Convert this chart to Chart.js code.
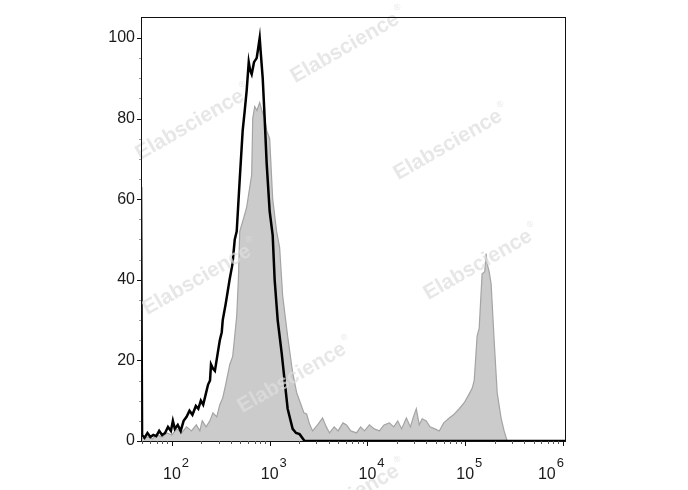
<!DOCTYPE html>
<html>
<head>
<meta charset="utf-8">
<script src="https://cdn.jsdelivr.net/npm/chart.js@4/dist/chart.umd.min.js"></script>
<style>
  html, body { margin: 0; padding: 0; background: #ffffff; }
  #wrap { width: 688px; height: 490px; }
</style>
</head>
<body>
<div id="wrap"><canvas id="c" width="688" height="490"></canvas></div>
<script>
// ---- Data (x given as log10 of fluorescence intensity) ----
const blackLogX = [1.684, 1.695, 1.72, 1.75, 1.78, 1.81, 1.84, 1.87, 1.90, 1.93, 1.96, 1.99, 2.01, 2.03, 2.06, 2.09, 2.12, 2.15, 2.18, 2.21, 2.245, 2.27, 2.296, 2.32, 2.347, 2.37, 2.39, 2.40, 2.42, 2.44, 2.47, 2.49, 2.51, 2.52, 2.55, 2.59, 2.62, 2.643, 2.663, 2.694, 2.724, 2.745, 2.765, 2.786, 2.80, 2.816, 2.84, 2.867, 2.88, 2.898, 2.91, 2.929, 2.949, 2.969, 3.0, 3.031, 3.051, 3.082, 3.122, 3.153, 3.184, 3.235, 3.27, 3.306, 3.357, 6.031];
const blackY    = [63, 1.5, 0.8, 2, 1, 1.5, 1.2, 2.5, 1.5, 2, 3.5, 2.5, 5, 3, 4, 2.5, 5, 6, 7.5, 6.5, 8.7, 8, 10, 9, 11.7, 14, 15, 19, 18, 17.4, 22, 25, 27, 30, 34, 40, 44, 50, 52, 65, 77, 82, 87, 94, 92, 91, 94, 95, 97, 100, 96, 90, 80, 69, 57, 51, 40, 30, 22, 15, 8, 3, 2, 1.7, 0, 0];

const grayLogX = [1.684, 1.75, 1.80, 1.85, 1.90, 1.95, 2.0, 2.05, 2.1, 2.15, 2.2, 2.25, 2.286, 2.31, 2.35, 2.388, 2.42, 2.459, 2.49, 2.52, 2.55, 2.592, 2.622, 2.663, 2.68, 2.694, 2.73, 2.765, 2.79, 2.816, 2.827, 2.847, 2.87, 2.898, 2.92, 2.949, 2.97, 3.0, 3.031, 3.071, 3.102, 3.133, 3.184, 3.235, 3.276, 3.306, 3.35, 3.378, 3.408, 3.439, 3.49, 3.541, 3.58, 3.612, 3.66, 3.70, 3.75, 3.786, 3.83, 3.888, 3.93, 3.97, 4.02, 4.07, 4.122, 4.17, 4.224, 4.27, 4.31, 4.35, 4.398, 4.44, 4.47, 4.5, 4.53, 4.56, 4.602, 4.64, 4.69, 4.735, 4.78, 4.837, 4.88, 4.939, 4.99, 5.041, 5.07, 5.092, 5.122, 5.143, 5.173, 5.20, 5.214, 5.224, 5.245, 5.265, 5.296, 5.327, 5.367, 5.398, 5.429, 6.031];
const grayY    = [0.5, 1, 0.5, 1.5, 1, 2, 1.5, 3, 2, 3.5, 2.5, 4, 2.5, 5, 3.5, 5, 7, 6, 9, 10.7, 14, 19, 21, 31, 40, 52, 55, 58, 62, 66, 80, 83, 82, 84, 82, 80, 77, 75, 60, 52, 48, 36, 26, 17, 12, 10, 7, 6.7, 4.2, 2.5, 4, 5.7, 3.5, 2, 3.5, 2.5, 4.5, 4, 2.5, 2, 3.5, 2.5, 4, 3, 2.5, 4, 4.5, 3.5, 5, 3, 5.7, 3.5, 6, 8, 4, 5.5, 5, 3.5, 3, 2.5, 4.5, 5.7, 6.5, 8, 9.5, 11.7, 13, 15, 26, 28, 41.5, 42, 46.5, 44, 42, 39, 25, 12, 5.7, 2.5, 0, 0];

const xTickExponents = [2, 3, 4, 5, 6];
const yTickLabels = [0, 20, 40, 60, 80, 100];
const yMinorStep = 5;
const watermarkText = 'Elabscience';

// ---- Chart ----
const toPoints = (lx, ys) => lx.map((v, i) => ({ x: Math.pow(10, v), y: ys[i] }));

const FONT = '"Liberation Sans", Arial, Helvetica, sans-serif';

const decorPlugin = {
  id: 'decor',
  afterDatasetsDraw(chart) {
    const { ctx } = chart;
    const spots = [[345, 48], [190, 125], [448, 145], [197, 280], [478, 265], [292, 378], [345, 500]];
    ctx.save();
    ctx.font = 'bold 21px ' + FONT;
    ctx.fillStyle = 'rgba(222,222,222,0.72)';
    ctx.textAlign = 'center';
    ctx.textBaseline = 'middle';
    spots.forEach(([cx, cy]) => {
      ctx.save();
      ctx.translate(cx, cy);
      ctx.rotate(-30 * Math.PI / 180);
      ctx.font = 'bold 21px ' + FONT;
      ctx.fillText(watermarkText, 0, 0);
      const w = ctx.measureText(watermarkText).width;
      ctx.font = '9px ' + FONT;
      ctx.fillText('\u00AE', w / 2 + 5, -9);
      ctx.restore();
    });
    ctx.restore();
  },
  afterDraw(chart) {
    const { ctx, chartArea } = chart;
    const xs = chart.scales.x, ys = chart.scales.y;
    ctx.save();
    // frame
    ctx.strokeStyle = '#111';
    ctx.lineWidth = 1;
    ctx.strokeRect(chartArea.left + 0.5, chartArea.top + 0.5, chartArea.right - chartArea.left - 1, chartArea.bottom - chartArea.top);
    // x ticks (major + minor)
    const bottom = chartArea.bottom;
    for (let e = 1; e <= 6; e++) {
      for (let k = 1; k <= 9; k++) {
        const v = k * Math.pow(10, e);
        if (v < xs.min || v > xs.max) continue;
        const px = Math.round(xs.getPixelForValue(v)) + 0.5;
        ctx.beginPath();
        ctx.strokeStyle = k === 1 ? '#111' : '#555';
        ctx.moveTo(px, bottom);
        ctx.lineTo(px, bottom + (k === 1 ? 5 : 3));
        ctx.stroke();
      }
    }
    // y ticks
    for (let v = 0; v <= 100; v += yMinorStep) {
      const py = Math.round(ys.getPixelForValue(v)) + 0.5;
      const major = yTickLabels.includes(v);
      ctx.beginPath();
      ctx.strokeStyle = major ? '#111' : '#999';
      ctx.moveTo(chartArea.left, py);
      ctx.lineTo(chartArea.left - (major ? 4 : 2), py);
      ctx.stroke();
    }
    // x tick labels 10^n
    ctx.fillStyle = '#1a1a1a';
    ctx.textBaseline = 'alphabetic';
    xTickExponents.forEach(e => {
      const px = xs.getPixelForValue(Math.pow(10, e));
      ctx.font = '16px ' + FONT;
      const wb = ctx.measureText('10').width;
      ctx.font = '13px ' + FONT;
      const we = ctx.measureText(String(e)).width;
      let left = px - wb / 2;
      if (left + wb + 1 + we > chartArea.right) left = chartArea.right - 2 - wb - 1 - we;
      ctx.textAlign = 'left';
      ctx.font = '16px ' + FONT;
      ctx.fillText('10', left, 479);
      ctx.font = '13px ' + FONT;
      ctx.fillText(String(e), left + wb + 1, 467);
    });
    ctx.restore();
  }
};

new Chart(document.getElementById('c'), {
  type: 'line',
  data: {
    datasets: [
      {
        label: 'Stained',
        data: toPoints(blackLogX, blackY),
        borderColor: '#000000',
        borderWidth: 2.5,
        pointRadius: 0,
        fill: false,
        tension: 0,
        order: 0
      },
      {
        label: 'Control',
        data: toPoints(grayLogX, grayY),
        borderColor: '#a4a4a4',
        backgroundColor: '#cbcbcb',
        borderWidth: 1.2,
        pointRadius: 0,
        fill: 'origin',
        tension: 0,
        order: 1
      }
    ]
  },
  options: {
    responsive: false,
    animation: false,
    devicePixelRatio: 1,
    layout: { padding: { top: 17, right: 122, left: 0, bottom: 0 } },
    plugins: { legend: { display: false }, tooltip: { enabled: false } },
    scales: {
      x: {
        type: 'logarithmic',
        min: Math.pow(10, 1.684),
        max: Math.pow(10, 6.031),
        grid: { display: false, drawTicks: false },
        border: { display: false },
        ticks: { display: false },
        afterFit(s) { s.height = 49; }
      },
      y: {
        type: 'linear',
        min: 0,
        max: 105.2,
        grid: { display: false, drawTicks: false },
        border: { display: false },
        afterBuildTicks(s) { s.ticks = yTickLabels.map(v => ({ value: v })); },
        ticks: {
          color: '#1a1a1a',
          padding: 6,
          font: { size: 16, family: FONT },
          callback: v => String(v)
        },
        afterFit(s) { s.width = 141; }
      }
    }
  },
  plugins: [decorPlugin]
});
</script>
</body>
</html>
